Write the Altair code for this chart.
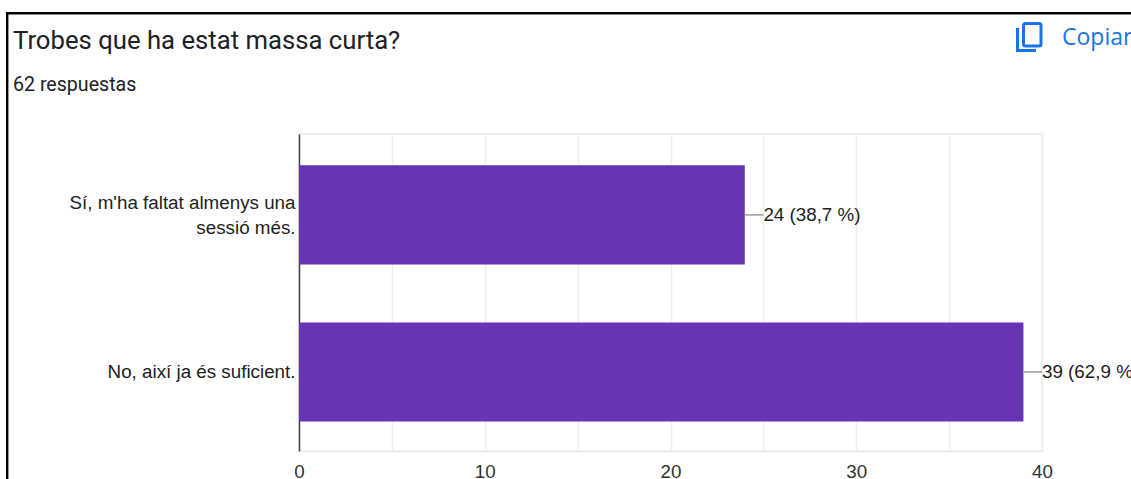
import altair as alt
import pandas as pd

categories = ["Sí, m'ha faltat almenys una\nsessió més.", "No, així ja és suficient."]
counts = [24, 39]
value_labels = ["24 (38,7 %)", "39 (62,9 %)"]
grid_ticks = [0, 5, 10, 15, 20, 25, 30, 35, 40]

question = "Trobes que ha estat massa curta?"
responses = "62 respuestas"
copy_label = "Copiar"

PLOT_W, PLOT_H = 743, 317
PAD_L, PAD_T = 299, 134
BLUE = "#1a73e8"
INK = "#202124"

data = pd.DataFrame({"cat": categories, "n": counts, "label": value_labels})

x_scale = alt.Scale(domain=[0, 40], nice=False)
y_scale = alt.Scale(domain=categories, paddingInner=0.369, paddingOuter=0.194, align=0.515)

bars = alt.Chart(data).mark_bar(color="#6635b3").encode(
    x=alt.X(
        "n:Q",
        scale=x_scale,
        title=None,
        axis=alt.Axis(
            values=grid_ticks,
            labelExpr="datum.value % 10 === 0 ? datum.label : ''",
            grid=True,
            gridColor="#eeeeee",
            gridWidth=1.5,
            domainColor="#eeeeee",
            domainWidth=2,
            ticks=False,
            labelFont="Liberation Sans",
            labelFontSize=18.8,
            labelColor="#333333",
            labelPadding=11,
            labelFlush=False,
            labelOverlap=False,
        ),
    ),
    y=alt.Y(
        "cat:N",
        scale=y_scale,
        sort=categories,
        title=None,
        axis=alt.Axis(
            labelExpr="split(datum.value, '\\n')",
            # Two-line labels hang from the band centre, so lift them by half a line.
            labelOffset={"condition": {"test": "indexof(datum.value, '\\n') >= 0", "value": -12}, "value": 0},
            domainColor="#444444",
            domainWidth=1.5,
            ticks=False,
            grid=False,
            labelFont="Liberation Sans",
            labelFontSize=18.8,
            labelColor="#222222",
            labelPadding=4,
            labelLimit=300,
            labelLineHeight=25,
        ),
    ),
)

# Leader line from each bar end out to its value label, one axis unit long.
with_leader = alt.Chart(data).transform_calculate(end="datum.n + 1")

leaders = with_leader.mark_rule(color="#999999", strokeWidth=1.5).encode(
    x=alt.X("n:Q", scale=x_scale),
    x2="end:Q",
    y=alt.Y("cat:N", scale=y_scale, sort=categories),
)

value_text = with_leader.mark_text(
    align="left", baseline="middle", font="Liberation Sans", fontSize=18.8, color="#222222", clip=False
).encode(
    x=alt.X("end:Q", scale=x_scale),
    y=alt.Y("cat:N", scale=y_scale, sort=categories),
    text="label:N",
)


def caption(text, left, top, **style):
    """Text placed relative to the page rather than to the scales."""
    frame = pd.DataFrame({"t": [text]})
    return alt.Chart(frame).mark_text(align="left", baseline="middle", **style).encode(
        x=alt.value(left - PAD_L), y=alt.value(top - PAD_T), text="t:N"
    )


def page_rect(left, top, right, bottom, **style):
    """Rectangle in page pixels, used for the frame and the copy icon."""
    frame = pd.DataFrame({"k": [0]})
    return alt.Chart(frame).mark_rect(**style).encode(
        x=alt.value(left - PAD_L),
        x2=alt.value(right - PAD_L),
        y=alt.value(top - PAD_T),
        y2=alt.value(bottom - PAD_T),
    )


title_text = caption(question, 13, 41, font="Roboto", fontSize=25.7, color=INK)
subtitle_text = caption(responses, 13, 84.5, font="Roboto", fontSize=19.6, color=INK)
copy_text = caption(copy_label, 1062, 37.5, font="Open Sans", fontSize=23, color=BLUE)

frame_top = page_rect(6, 12, 1131, 14.4, color="#000000")
frame_left = page_rect(6, 12, 8.4, 479, color="#000000")

icon_front = page_rect(1023.5, 23.5, 1041, 46, fillOpacity=0, stroke=BLUE, strokeWidth=3, cornerRadius=2)
icon_back_v = page_rect(1016, 28, 1019, 52, color=BLUE)
icon_back_h = page_rect(1016, 49, 1036, 52, color=BLUE)

chart = (
    alt.layer(
        bars, leaders, value_text,
        title_text, subtitle_text, copy_text,
        frame_top, frame_left,
        icon_front, icon_back_v, icon_back_h,
    )
    .properties(
        width=PLOT_W,
        height=PLOT_H,
        background="white",
        padding={"left": PAD_L, "top": PAD_T, "right": 1131 - PAD_L - PLOT_W, "bottom": 479 - PAD_T - PLOT_H},
        autosize=alt.AutoSizeParams(type="none"),
    )
    .configure_view(stroke="#eeeeee", strokeWidth=2)
)

chart.save("out.html", embed_options={"renderer": "svg", "actions": False})
